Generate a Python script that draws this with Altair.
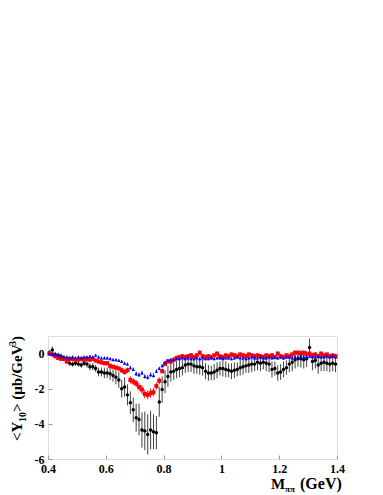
import altair as alt
import pandas as pd

mass = [round(0.405 + 0.01 * i, 3) for i in range(100)]

black_y = [0.05, 0.2, -0.05, -0.1, -0.15, -0.25, -0.4, -0.55, -0.6, -0.55,
           -0.6, -0.65, -0.55, -0.6, -0.75, -0.75, -0.85, -1.05, -1.05, -1.1,
           -1.1, -1.15, -1.25, -1.35, -1.5, -2.0, -1.9, -2.35, -2.8, -3.2,
           -3.65, -3.75, -4.35, -4.4, -4.6, -4.35, -4.45, -4.5, -2.75, -2.05,
           -1.6, -1.3, -1.05, -1.0, -0.9, -0.85, -0.8, -0.65, -0.6, -0.6,
           -0.7, -0.75, -0.75, -0.8, -1.0, -1.1, -1.1, -1.05, -0.95, -0.85,
           -0.85, -0.9, -0.95, -1.0, -0.95, -0.9, -0.8, -0.75, -0.7, -0.65,
           -0.6, -0.6, -0.5, -0.55, -0.5, -0.55, -0.6, -0.9, -0.85, -1.1,
           -1.05, -0.9, -0.8, -0.6, -0.5, -0.35, -0.3, -0.3, -0.35, -0.3,
           0.35, -0.45, -0.4, -0.65, -0.55, -0.5, -0.55, -0.6, -0.55, -0.6]
black_err = [0.15, 0.2, 0.15, 0.15, 0.15, 0.15, 0.15, 0.15, 0.15, 0.15,
             0.15, 0.15, 0.15, 0.2, 0.2, 0.2, 0.2, 0.25, 0.25, 0.3,
             0.3, 0.35, 0.35, 0.4, 0.45, 0.5, 0.55, 0.6, 0.65, 0.7,
             0.8, 0.9, 1.0, 1.1, 1.15, 1.1, 1.0, 0.95, 0.85, 0.75,
             0.65, 0.6, 0.55, 0.5, 0.5, 0.5, 0.45, 0.45, 0.45, 0.45,
             0.45, 0.4, 0.45, 0.45, 0.45, 0.45, 0.4, 0.45, 0.45, 0.4,
             0.45, 0.45, 0.4, 0.45, 0.45, 0.4, 0.45, 0.45, 0.4, 0.45,
             0.45, 0.4, 0.45, 0.45, 0.4, 0.45, 0.45, 0.45, 0.4, 0.45,
             0.45, 0.45, 0.4, 0.45, 0.5, 0.5, 0.45, 0.5, 0.5, 0.45,
             0.5, 0.5, 0.45, 0.5, 0.45, 0.5, 0.45, 0.45, 0.45, 0.45]

red_y = [0.0, -0.05, -0.15, -0.25, -0.3, -0.3, -0.45, -0.3, -0.3, -0.35,
         -0.35, -0.3, -0.35, -0.3, -0.35, -0.3, -0.4, -0.45, -0.5, -0.55,
         -0.55, -0.7, -0.75, -0.8, -0.85, -0.95, -1.05, -0.95, -1.5, -1.6,
         -1.7, -1.9, -2.05, -2.3, -2.35, -2.25, -2.2, -1.85, -1.55, -1.0,
         -0.6, -0.45, -0.45, -0.35, -0.25, -0.2, -0.15, -0.2, -0.15, -0.1,
         -0.2, -0.1, 0.05, -0.15, -0.2, -0.15, -0.2, -0.1, 0.0, -0.15,
         -0.2, -0.1, -0.15, -0.05, -0.1, -0.15, -0.05, -0.1, -0.15, -0.05,
         -0.1, -0.15, -0.1, -0.15, -0.2, -0.1, -0.15, -0.1, -0.2, 0.0,
         -0.15, -0.2, -0.1, -0.15, -0.05, 0.05, 0.05, 0.0, 0.05, -0.05,
         0.0, -0.1, -0.05, -0.15, 0.0, -0.1, -0.05, -0.15, -0.1, -0.15]
red_err = [0.12] * 25 + [0.15, 0.15, 0.15, 0.2, 0.2, 0.2, 0.22, 0.25, 0.25, 0.25,
                         0.25, 0.22, 0.2, 0.2, 0.15] + [0.12] * 60

blue_y = [0.0, -0.05, -0.05, -0.1, -0.15, -0.2, -0.2, -0.25, -0.2, -0.25,
          -0.2, -0.25, -0.2, -0.2, -0.15, -0.2, -0.1, -0.2, -0.25, -0.25,
          -0.25, -0.3, -0.35, -0.35, -0.4, -0.45, -0.55, -0.6, -0.8, -0.9,
          -1.15, -1.2, -1.1, -1.3, -1.35, -1.2, -1.25, -1.0, -0.85, -0.7,
          -0.5, -0.4, -0.35, -0.35, -0.3, -0.3, -0.25, -0.3, -0.25, -0.3,
          -0.3, -0.25, -0.3, -0.25, -0.3, -0.3, -0.25, -0.3, -0.25, -0.25,
          -0.3, -0.25, -0.25, -0.3, -0.25, -0.2, -0.25, -0.25, -0.3, -0.25,
          -0.2, -0.25, -0.25, -0.2, -0.25, -0.25, -0.2, -0.25, -0.2, -0.25,
          -0.2, -0.25, -0.2, -0.2, -0.25, -0.2, -0.2, -0.15, -0.2, -0.2,
          -0.15, -0.2, -0.2, -0.15, -0.2, -0.2, -0.15, -0.2, -0.15, -0.2]
blue_err = [0.08] * 28 + [0.1, 0.1, 0.12, 0.12, 0.12, 0.12, 0.12, 0.12, 0.12, 0.1,
                          0.1, 0.1] + [0.08] * 60

x_ticks = [0.4, 0.6, 0.8, 1.0, 1.2, 1.4]
y_ticks = [-6, -4, -2, 0]

W, H = 289, 123
FONT = "Liberation Serif"

df = pd.DataFrame({"m": mass,
                   "b": black_y, "b_lo": [v - e for v, e in zip(black_y, black_err)],
                   "b_hi": [v + e for v, e in zip(black_y, black_err)],
                   "r": red_y, "r_lo": [v - e for v, e in zip(red_y, red_err)],
                   "r_hi": [v + e for v, e in zip(red_y, red_err)],
                   "u": blue_y, "u_lo": [v - e for v, e in zip(blue_y, blue_err)],
                   "u_hi": [v + e for v, e in zip(blue_y, blue_err)]})

xs = alt.Scale(domain=[0.4, 1.4], nice=False, zero=False)
ys = alt.Scale(domain=[-6, 1], nice=False, zero=False)

lab_x_axis = alt.Axis(orient="bottom", values=x_ticks, labelExpr="'' + datum.value",
                      ticks=False, domain=False, grid=False, title=None,
                      labelFont=FONT, labelFontWeight="bold", labelFontSize=12,
                      labelColor="black", labelPadding=4, labelFlush=False)
lab_y_axis = alt.Axis(orient="left", values=y_ticks, labelExpr="'' + datum.value",
                      ticks=False, domain=False, grid=False, title=None,
                      labelFont=FONT, labelFontWeight="bold", labelFontSize=12,
                      labelColor="black", labelPadding=4)
tick_x_axis = alt.Axis(orient="top", offset=-H, values=x_ticks, labels=False,
                       domain=False, grid=False, title=None, tickSize=4,
                       tickColor="#999999", tickWidth=1)
tick_y_axis = alt.Axis(orient="right", offset=-W, values=y_ticks, labels=False,
                       domain=False, grid=False, title=None, tickSize=4,
                       tickColor="#999999", tickWidth=1)

base = alt.Chart(df)

b_err = base.mark_rule(color="black", strokeWidth=1, opacity=0.75).encode(
    x=alt.X("m:Q", scale=xs, axis=lab_x_axis),
    y=alt.Y("b_lo:Q", scale=ys, axis=lab_y_axis),
    y2="b_hi:Q")
b_pts = base.mark_circle(color="black", size=12, opacity=1).encode(
    x=alt.X("m:Q", scale=xs, axis=tick_x_axis),
    y=alt.Y("b:Q", scale=ys, axis=tick_y_axis))
r_err = base.mark_rule(color="#ff0000", strokeWidth=1).encode(
    x=alt.X("m:Q", scale=xs, axis=None),
    y=alt.Y("r_lo:Q", scale=ys, axis=None), y2="r_hi:Q")
r_pts = base.mark_square(color="#ff0000", size=16, opacity=1).encode(
    x=alt.X("m:Q", scale=xs, axis=None),
    y=alt.Y("r:Q", scale=ys, axis=None))
u_err = base.mark_rule(color="#0000ff", strokeWidth=1).encode(
    x=alt.X("m:Q", scale=xs, axis=None),
    y=alt.Y("u_lo:Q", scale=ys, axis=None), y2="u_hi:Q")
u_pts = base.mark_point(shape="triangle-up", filled=True, color="#0000ff", size=12,
                        opacity=1).encode(
    x=alt.X("m:Q", scale=xs, axis=None),
    y=alt.Y("u:Q", scale=ys, axis=None))

tbase = alt.Chart(pd.DataFrame({"t": [0]}))


def rtext(txt, size, x, y):
    return tbase.mark_text(text=txt, angle=270, font=FONT, fontWeight="bold",
                           fontSize=size, align="left", baseline="alphabetic",
                           color="black").encode(x=alt.value(x), y=alt.value(y))


def htext(txt, size, x, y):
    return tbase.mark_text(text=txt, font=FONT, fontWeight="bold", fontSize=size,
                           align="left", baseline="alphabetic",
                           color="black").encode(x=alt.value(x), y=alt.value(y))


y_title = [rtext("<Y", 15, -26, 105), rtext("10", 10, -22, 86),
           rtext("> (\u03bcb/GeV", 15, -26, 76), rtext("3", 10, -32, 10),
           rtext(")", 15, -26, 5)]
x_title = [htext("M", 15, 223, 153), htext("\u03c0\u03c0", 9, 237, 156),
           htext("(GeV)", 16, 252, 153)]

chart = alt.layer(b_err, b_pts, r_err, r_pts, u_err, u_pts,
                  *y_title, *x_title).resolve_axis(
    x="independent", y="independent").properties(
    width=W, height=H,
    autosize=alt.AutoSizeParams(type="none"),
    padding={"left": 40, "top": 328, "right": 30, "bottom": 36},
).configure_view(stroke="black", strokeWidth=1).configure(background="white")

chart.save("out.html", embed_options={"renderer": "svg", "actions": False})
